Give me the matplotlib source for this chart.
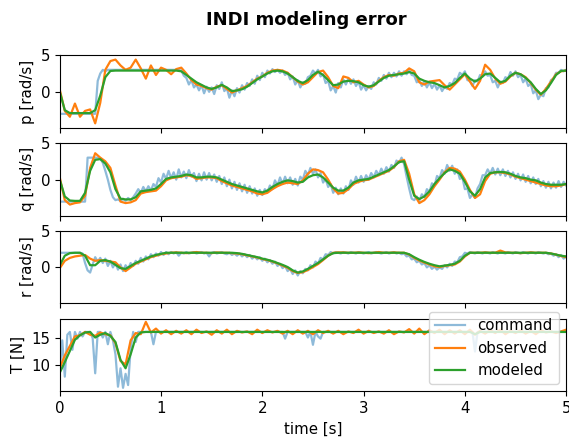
import numpy as np
import matplotlib
matplotlib.use("Agg")
import matplotlib.pyplot as plt

plt.rcParams["font.size"] = 10.8
plt.rcParams["lines.linewidth"] = 1.6

p_cmd = [-3.0] * 15 + [1.5, 2.5, 3.0, 2.8] + [3.0] * 29 + [
    2.9, 2.2, 1.9, 1.0, 1.6, 0.6, 1.0, 0.2, 0.9, -0.2,
    0.7, 0.0, 0.6, -0.3, 0.9, 0.4, 1.3, 0.1, 0.5, -0.8,
    0.2, -0.6, 0.5, -0.1, 0.9, 0.3, 1.2, 0.8, 1.7, 1.1,
    2.2, 1.6, 2.6, 2.0, 2.9, 2.5, 3.1, 2.7, 3.0, 2.6,
    2.9, 2.3, 2.6, 1.7, 2.1, 1.0, 1.6, 0.6, 1.3, 1.1,
    2.0, 2.2, 2.9, 2.5, 3.0, 2.1, 2.4, 1.2, 1.5, 0.2,
    0.8, -0.1, 1.2, 0.6, 1.7, 1.0, 1.8, 1.1, 1.7, 0.8,
    1.4, 0.3, 0.9, 0.2, 0.8, 0.4, 1.3, 1.0, 1.9, 1.5,
    2.3, 1.8, 2.6, 2.0, 2.6, 2.1, 2.8, 2.2, 2.8, 2.4,
    3.0, 2.3, 2.2, 1.3, 1.6, 0.8, 1.4, 0.6, 1.3, 0.5,
    1.1, 0.3, 0.9, 0.1, 0.7, 0.4, 1.2, 1.0, 1.8, 1.7,
    2.6, 2.3, 2.8, 1.6, 1.5, 0.8, 1.6, 1.4, 2.3, 2.1,
    2.8, 2.2, 2.3, 1.3, 1.5, 0.6, 1.4, 1.2, 2.0, 1.8,
    2.7, 2.2, 2.8, 2.0, 2.3, 1.3, 1.8, 0.8, 1.1, -0.2,
    0.2, -1.0, -0.4, -0.6, 0.5, 0.6, 1.6, 1.8, 2.6, 2.6,
    3.0, 2.8, 3.0]
p_obs = [0.3, -2.6, -3.4, -1.6, -3.4, -2.6, -2.4, -4.3, -1.5, 3.0,
         4.2, 4.4, 3.6, 3.0, 3.3, 4.4, 3.2, 1.8, 3.6, 2.3,
         3.3, 3.0, 2.4, 3.1, 3.3, 2.5, 1.6, 1.0, 0.8, 0.5,
         0.3, 0.7, 0.9, 0.4, -0.1, 0.2, 0.5, 0.8, 1.3, 1.8,
         2.1, 2.6, 2.9, 3.0, 2.9, 2.6, 2.0, 1.4, 1.0, 1.3,
         2.0, 2.7, 2.9, 2.0, 0.8, 0.5, 2.1, 1.9, 1.3, 1.5,
         1.0, 0.6, 0.8, 1.5, 2.0, 2.3, 2.2, 2.5, 2.6, 3.2,
         2.8, 1.3, 1.0, 1.4, 1.5, 1.6, 0.9, 0.3, 1.0, 1.7,
         2.4, 1.4, 0.4, 1.5, 3.7, 3.0, 1.8, 1.1, 1.4, 2.1,
         2.6, 2.4, 2.0, 1.2, 0.3, -0.4, 0.4, 1.4, 2.4, 2.8,
         2.9]
p_mod = [0.0, -2.5, -2.9, -2.9, -2.9, -2.9, -2.9, -2.5, -0.5, 2.0, 2.85, 2.9] + [2.9] * 12 + [
    2.8, 2.3, 1.8, 1.3, 0.95, 0.6, 0.4, 0.6, 0.95, 0.6,
    0.1, 0.2, 0.35, 0.7, 1.2, 1.7, 2.1, 2.5, 2.8, 2.9,
    2.8, 2.5, 2.0, 1.5, 1.2, 1.6, 2.3, 2.75, 2.3, 1.6,
    0.9, 1.0, 1.4, 1.5, 1.45, 1.3, 0.9, 0.7, 0.9, 1.4,
    1.9, 2.2, 2.3, 2.4, 2.5, 2.7, 2.5, 1.8, 1.5, 1.3,
    1.2, 0.9, 0.6, 0.8, 1.2, 1.9, 2.5, 1.8, 1.4, 1.8,
    2.4, 2.5, 1.9, 1.3, 1.5, 2.2, 2.6, 2.4, 1.9, 1.3,
    0.4, -0.3, 0.2, 1.2, 2.3, 2.85, 2.9]

q_cmd = [-3.0] * 11 + [3.0] * 5 + [
    2.9, 2.3, 1.2, 0.0, -1.4, -2.4, -2.8, -2.7, -2.9, -2.6,
    -2.9, -2.5, -2.8, -2.4, -1.9, -1.3, -1.8, -1.0, -1.6, -0.9,
    -1.5, -0.6, -1.0, 0.2, -0.4, 0.8, 0.1, 1.2, 0.2, 1.0,
    0.0, 1.4, 0.3, 1.1, 0.2, 1.3, 0.4, 0.9, -0.2, 0.8,
    -0.1, 1.0, 0.0, 0.9, -0.1, 0.7, -0.3, 0.5, -0.6, 0.3,
    -0.9, 0.0, -1.2, -0.3, -1.4, -0.5, -1.6, -0.7, -1.8, -0.9,
    -1.9, -1.2, -2.2, -1.4, -2.1, -1.3, -1.7, -0.8, -1.3, -0.1,
    -0.8, 0.3, -0.6, 0.4, -0.5, 0.3, -0.7, 0.1, -0.8, 0.4,
    0.0, 1.2, 0.6, 1.6, 0.8, 1.4, 0.3, 0.9, -0.4, 0.1,
    -1.0, -0.6, -1.8, -1.1, -2.0, -1.2, -1.9, -0.9, -1.4, -0.1,
    -0.7, 0.4, -0.4, 0.5, -0.3, 0.6, 0.0, 0.9, 0.3, 1.2,
    0.6, 1.5, 0.8, 1.7, 1.1, 2.0, 1.6, 2.6, 2.3, 3.0,
    2.1, 0.4, -1.2, -2.6, -2.8, -2.3, -2.9, -2.0, -2.4, -1.3,
    -1.7, -0.5, -0.8, 0.5, 0.2, 1.3, 0.8, 2.0, 1.2, 1.9,
    0.8, 1.4, 0.1, 0.3, -1.3, -1.2, -2.5, -2.0, -2.5, -1.2,
    -0.6, 0.6, 0.6, 1.4, 0.8, 1.6, 0.7, 1.5, 0.6, 1.4,
    0.5, 1.2, 0.3, 1.0, 0.1, 0.8, -0.1, 0.7, -0.3, 0.5,
    -0.5, 0.3, -0.6, 0.1, -0.9, -0.2, -1.1, -0.3, -1.2, -0.4,
    -1.1, -0.2, -1.0, -0.3, -0.8]
q_obs = [0.3, -2.8, -3.4, -3.2, -3.1, -2.2, 1.6, 3.6, 3.0, 2.5,
         1.6, -0.8, -3.0, -3.2, -3.1, -2.8, -1.9, -1.7, -1.6, -1.5,
         -0.9, -0.1, 0.2, 0.3, 0.4, 0.6, 0.5, 0.1, 0.2, 0.3,
         0.3, 0.2, -0.2, -0.5, -0.8, -1.0, -1.2, -1.4, -1.6, -1.9,
         -2.0, -1.8, -1.3, -0.9, -0.6, -0.4, -0.5, -0.6, -0.1, 0.8,
         1.4, 1.3, 1.0, 0.0, -1.2, -1.9, -1.8, -1.3, -0.6, -0.3,
         -0.1, 0.0, 0.3, 0.6, 0.9, 1.2, 1.7, 2.5, 2.7, 0.8,
         -2.0, -3.2, -2.8, -2.0, -0.9, 0.0, 1.0, 1.6, 1.5, 1.1,
         0.0, -1.4, -2.5, -2.0, -0.2, 0.8, 1.0, 1.0, 0.9, 0.7,
         0.4, 0.2, 0.0, -0.2, -0.4, -0.6, -0.8, -0.9, -0.9, -0.8,
         -0.6]
q_mod = [0.0, -2.3, -2.85, -2.9, -2.9, -1.8, 1.2, 2.7, 2.8, 2.2,
         1.0, -1.3, -2.6, -2.7, -2.7, -2.4, -1.6, -1.5, -1.4, -1.2,
         -0.6, 0.1, 0.3, 0.4, 0.5, 0.7, 0.6, 0.3, 0.3, 0.4,
         0.4, 0.3, 0.0, -0.3, -0.6, -0.8, -1.0, -1.2, -1.4, -1.6,
         -1.75, -1.5, -1.0, -0.6, -0.3, -0.1, -0.2, -0.4, -0.3, 0.3,
         0.6, 0.7, 0.3, -0.4, -1.1, -1.5, -1.5, -1.1, -0.4, -0.1,
         0.0, 0.1, 0.4, 0.7, 1.0, 1.3, 1.8, 2.4, 2.5, 0.0,
         -2.2, -2.65, -2.3, -1.6, -0.6, 0.2, 0.9, 1.4, 1.2, 0.8,
         -0.3, -1.6, -2.2, -1.3, 0.3, 0.9, 1.0, 1.05, 1.0, 0.8,
         0.5, 0.3, 0.2, 0.0, -0.1, -0.4, -0.6, -0.7, -0.7, -0.7,
         -0.6]

r_cmd = [2.0] * 9 + [
    1.9, 0.6, -0.4, -0.7, 0.4, 1.4, 0.8, 1.3, 0.6, 1.2,
    0.2, 0.9, 0.0, 0.6, -0.3, 0.4, -0.5, 0.3, -0.2, 0.6,
    0.2, 0.9, 0.5, 1.3, 0.8, 1.5, 1.1, 1.8, 1.4, 1.9,
    1.6, 2.1, 1.7, 2.1, 1.8, 2.1, 1.9, 2.1, 1.6, 2.0,
    1.9, 2.1, 1.9, 2.0, 2.1, 1.9, 2.0, 2.1, 1.9, 2.0,
    1.5, 2.0, 2.1, 1.9, 2.0, 2.1, 1.9, 1.8, 2.0, 1.7,
    1.9, 1.6, 1.9, 1.5, 1.8, 1.4, 1.7, 1.2, 1.5, 1.1,
    1.4, 0.9, 1.2, 0.7, 1.0, 0.5, 0.8, 0.2, 0.5, -0.1,
    0.2, -0.5, -0.2, -0.9, -0.4, -1.1, -0.5, -0.8, -0.2, -0.4,
    0.3, 0.0, 0.8, 0.5, 1.3, 1.1, 1.8, 1.7, 2.1, 1.9,
    2.1, 2.0, 1.9, 2.1, 2.0, 1.9, 2.1, 2.0, 1.9, 2.1,
    2.0, 1.9, 2.0, 2.1, 1.9, 2.0, 2.1, 2.0, 1.9, 2.0,
    2.1, 1.9, 2.0, 2.1, 1.9, 2.0, 1.8, 1.9, 1.5, 1.6,
    1.1, 1.2, 0.7, 0.9, 0.4, 0.6, 0.0, 0.3, -0.2, 0.1,
    -0.3, 0.0, -0.2, 0.3, 0.0, 0.5, 0.2, 0.8, 0.7, 1.4,
    1.5, 2.0, 1.9, 2.1, 2.0, 1.9, 2.1, 2.0, 1.9, 2.1,
    2.0, 1.9, 2.1, 2.0, 1.9, 2.1, 2.0, 1.9, 2.1, 2.0,
    1.9, 2.1, 2.0, 1.9, 2.1, 2.0, 1.9, 2.1, 2.0, 1.9,
    2.1, 2.0, 1.9, 2.0, 1.8, 1.9, 1.6, 1.8, 1.4, 1.7,
    1.2, 1.5]
r_obs = [-0.1, 0.9, 1.3, 1.5, 1.6, 1.7, 1.2, 0.9, 1.0, 0.9,
         0.8, 0.7, 0.0, -0.5, 0.0, 0.5, 0.8, 1.1, 1.4, 1.6,
         1.8, 1.9,
         2.0, 2.05, 2.0, 1.95, 2.0, 2.1, 2.0, 2.0, 1.95, 2.05, 2.0, 2.0, 1.95,
         1.9, 1.8, 1.65, 1.5, 1.35, 1.15, 1.0, 0.8, 0.55, 0.25, -0.05,
         -0.5, -0.75, -0.65, -0.35, 0.05, 0.45, 1.0, 1.6, 2.0, 2.05,
         2.05, 2.0, 2.0, 2.05, 2.0, 1.95, 2.0, 2.1, 2.0, 2.0, 2.05, 2.0, 2.0,
         1.75, 1.3, 0.95, 0.65, 0.4, 0.15, 0.05, 0.2, 0.3, 0.4, 0.8, 1.5, 2.0,
         2.0, 2.0, 2.05, 2.0, 2.0, 2.3, 2.05, 2.0, 2.0, 1.95, 2.0, 2.05, 2.0, 2.0, 2.0,
         1.9, 1.75, 1.55, 1.4]
r_mod = [0.3, 1.6, 1.95, 2.0, 2.0, 1.6, 0.3, 0.3, 0.9, 1.0,
         0.8, 0.35, -0.1, -0.2, 0.2, 0.6, 0.9, 1.2, 1.5, 1.7,
         1.85] + [2.0] * 14 + [
    1.95, 1.85, 1.7, 1.55, 1.4, 1.2, 1.05, 0.85, 0.6, 0.35,
    0.05, -0.4, -0.7, -0.55, -0.2, 0.2, 0.6, 1.1, 1.6, 1.95] + [2.0] * 14 + [
    1.8, 1.4, 1.05, 0.75, 0.5, 0.3, 0.15, 0.25, 0.35, 0.5, 0.9, 1.6] + [2.0] * 16 + [
    1.9, 1.75, 1.6, 1.5]

T_cmd = [9.0, 14.5, 8.0, 15.5, 16.0, 12.8, 16.0, 14.8, 16.0, 15.2,
         16.0, 16.0, 16.0, 14.9, 8.6, 16.0, 16.0, 15.0, 16.0, 13.8,
         16.0, 14.5, 12.0, 6.2, 9.5, 6.0, 8.5, 6.5, 13.0, 16.0,
         14.2, 16.0] + [16.0] * 5 + [13.8] + [16.0] * 51 + [14.8] + [16.0] * 8 + [
    15.0, 16.0, 13.7, 16.0, 15.2, 14.8] + [16.0] * 60 + [12.5] + [16.0] * 36
T_obs = [9.5, 11.8, 13.5, 15.2, 15.4, 16.0, 15.5, 15.3, 15.9, 15.6,
         15.4, 14.0, 10.8, 10.2, 14.5, 15.8, 15.6, 17.8, 15.9, 16.6,
         15.7, 16.3, 15.6, 16.2, 15.7, 16.3, 15.6, 16.4, 15.8, 16.1,
         15.5, 16.3, 15.7, 16.4, 15.6, 16.2, 15.9, 16.1, 15.6, 16.4,
         15.8, 16.3, 15.9, 16.2, 15.7, 16.2, 15.6, 16.3, 15.7, 16.2,
         15.6, 16.3, 15.8, 16.2, 15.7, 16.2, 15.6, 16.1, 15.8, 16.4,
         15.7, 16.2, 15.8, 16.1, 15.7, 16.3, 15.6, 16.1, 15.9, 16.5,
         15.7, 16.6, 15.6, 16.3, 15.8, 16.4, 15.6, 16.3, 15.7, 16.3,
         15.6, 16.4, 15.5, 16.2, 15.7, 16.3, 15.8, 16.4, 15.6, 16.2,
         15.8, 16.3, 15.7, 16.2, 15.6, 16.3, 15.9, 16.1, 15.8, 16.1,
         16.4]
T_mod = [8.7, 10.6, 12.6, 14.6, 15.4, 15.9, 16.0, 15.0, 15.5, 15.8,
         15.3, 14.2, 11.0, 9.5, 12.0, 15.0, 15.9] + [16.0] * 65 + [15.6] + [16.0] * 18

panels = [
    ("p [rad/s]", p_cmd, p_obs, p_mod),
    ("q [rad/s]", q_cmd, q_obs, q_mod),
    ("r [rad/s]", r_cmd, r_obs, r_mod),
    ("T [N]", T_cmd, T_obs, T_mod),
]

fig, axes = plt.subplots(4, 1, figsize=(5.69, 4.38), dpi=100, sharex=True)
fig.subplots_adjust(left=0.105, right=0.995, top=0.874, bottom=0.107, hspace=0.21)

for ax, (lab, cmd, obs, mod) in zip(axes, panels):
    ax.plot(np.linspace(0, 5, len(cmd)), cmd, color="C0", alpha=0.5, label="command")
    ax.plot(np.linspace(0, 5, len(obs)), obs, color="C1", label="observed")
    ax.plot(np.linspace(0, 5, len(mod)), mod, color="C2", label="modeled")
    ax.set_ylabel(lab)
    ax.set_xlim(0, 5)

for ax in axes[:3]:
    ax.set_ylim(-4.9, 5)
    ax.set_yticks([0, 5])
axes[3].set_yticks([10, 15])

axes[3].set_xlabel("time [s]")
axes[3].legend(loc="upper right", bbox_to_anchor=(1.0, 1.19))
fig.suptitle("INDI modeling error", fontweight="bold", fontsize=13, x=0.539, y=0.975)

fig.savefig("out.png", dpi=100)
